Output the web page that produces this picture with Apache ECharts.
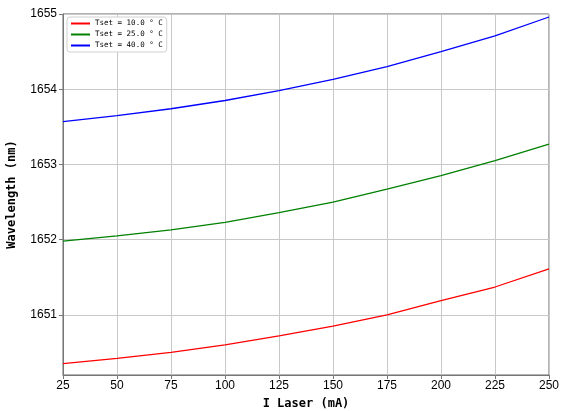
<!DOCTYPE html>
<html><head><meta charset="utf-8">
<script src="https://cdn.jsdelivr.net/npm/echarts@6/dist/echarts.min.js"></script>
<style>html,body{margin:0;padding:0;background:#fff}#c{width:573px;height:411px}</style>
</head><body><div id="c"></div>
<script>
const currents = [25, 50, 75, 100, 125, 150, 175, 200, 225, 250];
const wl10 = [1650.35, 1650.42, 1650.50, 1650.60, 1650.72, 1650.85, 1651.00, 1651.19, 1651.37, 1651.61];
const wl25 = [1651.98, 1652.05, 1652.13, 1652.23, 1652.36, 1652.50, 1652.67, 1652.85, 1653.05, 1653.27];
const wl40 = [1653.57, 1653.65, 1653.74, 1653.85, 1653.98, 1654.13, 1654.30, 1654.50, 1654.71, 1654.96];
const names = ['Tset = 10.0 ° C', 'Tset = 25.0 ° C', 'Tset = 40.0 ° C'];
const colors = ['#ff0000', '#008000', '#0000ff'];
const yTicks = [1651, 1652, 1653, 1654, 1655];

const mono = '"DejaVu Sans Mono", monospace';
const sans = '"Liberation Sans", Arial, sans-serif';
const chart = echarts.init(document.getElementById('c'));
const series = [wl10, wl25, wl40].map((d, i) => ({
  name: names[i], type: 'line', showSymbol: false, symbol: 'none',
  data: currents.map((x, j) => [x, d[j]]),
  lineStyle: {color: colors[i], width: 1.3}, itemStyle: {color: colors[i]},
  smooth: false, animation: false
}));
chart.setOption({
  animation: false,
  grid: {left: 63, right: 24, top: 14, bottom: 36, show: true, borderColor: '#666', borderWidth: 1,
    containLabel: false, outerBoundsMode: 'none'},
  legend: {
    orient: 'vertical', left: 67, top: 17, itemWidth: 19, itemHeight: 2, itemGap: 2,
    padding: [2, 4, 2, 4], borderColor: '#d0d0d0', borderWidth: 1, borderRadius: 3,
    backgroundColor: '#fff',
    icon: 'rect',
    textStyle: {fontFamily: mono, fontSize: 7.5, color: '#000', lineHeight: 9},
    data: names
  },
  xAxis: {
    type: 'value', min: 25, max: 250, interval: 25,
    name: 'I Laser (mA)', nameLocation: 'middle', nameGap: 23,
    nameTextStyle: {fontFamily: mono, fontSize: 12, color: '#000', fontWeight: 'bold'},
    axisLine: {show: true, lineStyle: {color: '#777'}},
    axisTick: {show: true, length: 4, lineStyle: {color: '#777'}},
    axisLabel: {fontFamily: sans, fontSize: 12, color: '#000', margin: 5},
    splitLine: {show: true, lineStyle: {color: '#c8c8c8', width: 1}}
  },
  yAxis: {
    type: 'value', min: 1650.2, max: 1655,
    name: 'Wavelength (nm)', nameLocation: 'middle', nameGap: 45,
    nameTextStyle: {fontFamily: mono, fontSize: 12, color: '#000', fontWeight: 'bold'},
    axisLine: {show: true, lineStyle: {color: '#777'}},
    axisTick: {show: true, length: 4, lineStyle: {color: '#777'},
      customValues: yTicks},
    axisLabel: {fontFamily: sans, fontSize: 12, color: '#000', margin: 6,
      customValues: yTicks, formatter: v => String(Math.round(v))},
    splitLine: {show: true, lineStyle: {color: '#c8c8c8', width: 1}}
  },
  series: series
});
</script></body></html>
